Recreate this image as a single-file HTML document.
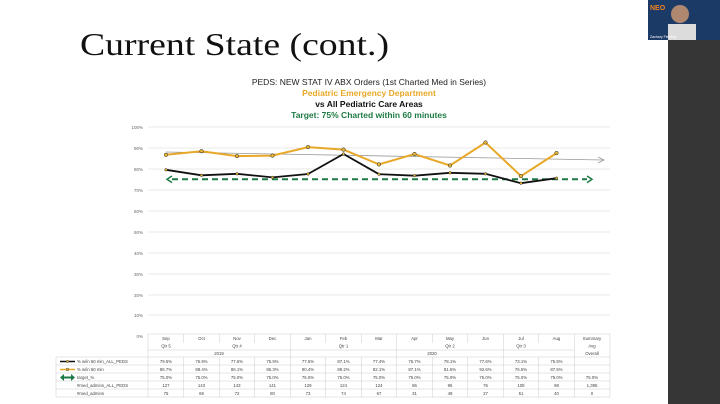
<!DOCTYPE html>
<html><head><meta charset="utf-8"><style>
html,body{margin:0;padding:0;width:720px;height:404px;overflow:hidden;background:#fff}
svg{display:block}
</style></head><body>
<svg width="720" height="404" viewBox="0 0 720 404" xmlns="http://www.w3.org/2000/svg" font-family="Liberation Sans, sans-serif">
<rect x="0" y="0" width="720" height="404" fill="#fff"/>
<rect x="668" y="40" width="52" height="364" fill="#363636"/>
<rect x="648" y="0" width="72" height="40" fill="#1c3a66"/>
<circle cx="680" cy="14" r="9" fill="#b08870"/>
<rect x="668" y="24" width="28" height="16" fill="#dcdcdc"/>
<text x="650" y="10" font-size="7" font-weight="bold" fill="#f08020">NEO</text>
<text x="650" y="38" font-size="3.5" fill="#fff">Zachary Fleming</text>
<text x="80" y="55" font-family="Liberation Serif, serif" font-size="32" fill="#111" textLength="309" lengthAdjust="spacingAndGlyphs">Current State (cont.)</text>
<g font-size="8.5" text-anchor="middle" font-weight="normal">
<text x="369" y="85" fill="#222">PEDS: NEW STAT IV ABX Orders (1st Charted Med in Series)</text>
<text x="369" y="96" fill="#e8a828" font-weight="bold">Pediatric Emergency Department</text>
<text x="369" y="107" fill="#111" font-weight="bold">vs All Pediatric Care Areas</text>
<text x="369" y="118" fill="#1e7a44" font-weight="bold">Target: 75% Charted within 60 minutes</text>
</g>
<g stroke="#e0e0e0" stroke-width="0.7">
<line x1="148" y1="127" x2="610" y2="127"/><line x1="148" y1="148" x2="610" y2="148"/><line x1="148" y1="169" x2="610" y2="169"/><line x1="148" y1="190" x2="610" y2="190"/><line x1="148" y1="211" x2="610" y2="211"/><line x1="148" y1="232" x2="610" y2="232"/><line x1="148" y1="253" x2="610" y2="253"/><line x1="148" y1="274" x2="610" y2="274"/><line x1="148" y1="295" x2="610" y2="295"/><line x1="148" y1="315" x2="610" y2="315"/>
</g>
<g font-size="4.5" fill="#666" text-anchor="end">
<text x="143" y="129">100%</text><text x="143" y="150">90%</text><text x="143" y="171">80%</text><text x="143" y="192">70%</text><text x="143" y="213">60%</text><text x="143" y="234">50%</text><text x="143" y="255">40%</text><text x="143" y="276">30%</text><text x="143" y="297">20%</text><text x="143" y="317">10%</text><text x="143" y="338">0%</text>
</g>
<line x1="166" y1="152" x2="603" y2="160" stroke="#999" stroke-width="0.8"/>
<polyline points="598,157 604,160 598,163" fill="none" stroke="#999" stroke-width="0.8"/>
<line x1="172" y1="179.3" x2="587" y2="179.3" stroke="#1e7a44" stroke-width="2" stroke-dasharray="6,4"/>
<polyline points="172,176 167,179.3 172,182.6" fill="none" stroke="#1e7a44" stroke-width="1.5"/>
<polyline points="587,176 592,179.3 587,182.6" fill="none" stroke="#1e7a44" stroke-width="1.5"/>
<polyline fill="none" stroke="#e8a828" stroke-width="2" points="166,154.8 201.5,151.2 237,156.1 272.5,155.6 308,147.1 343.5,149.6 379,164.4 414.5,154 450,165.5 485.5,142.5 521,176.1 556.5,153.1"/>
<polyline fill="none" stroke="#111" stroke-width="1.8" points="166,169.8 201.5,175.3 237,173.8 272.5,177.4 308,174 343.5,154 379,174.2 414.5,175.7 450,172.8 485.5,173.8 521,183.2 556.5,178.2"/>
<g fill="#e8b838" stroke="#222" stroke-width="0.5">
<circle cx="166" cy="154.8" r="1.8"/><circle cx="201.5" cy="151.2" r="1.8"/><circle cx="237" cy="156.1" r="1.8"/><circle cx="272.5" cy="155.6" r="1.8"/><circle cx="308" cy="147.1" r="1.8"/><circle cx="343.5" cy="149.6" r="1.8"/><circle cx="379" cy="164.4" r="1.8"/><circle cx="414.5" cy="154" r="1.8"/><circle cx="450" cy="165.5" r="1.8"/><circle cx="485.5" cy="142.5" r="1.8"/><circle cx="521" cy="176.1" r="1.8"/><circle cx="556.5" cy="153.1" r="1.8"/>
<circle cx="166" cy="169.8" r="1.3"/><circle cx="201.5" cy="175.3" r="1.3"/><circle cx="237" cy="173.8" r="1.3"/><circle cx="272.5" cy="177.4" r="1.3"/><circle cx="308" cy="174" r="1.3"/><circle cx="343.5" cy="154" r="1.3"/><circle cx="379" cy="174.2" r="1.3"/><circle cx="414.5" cy="175.7" r="1.3"/><circle cx="450" cy="172.8" r="1.3"/><circle cx="485.5" cy="173.8" r="1.3"/><circle cx="521" cy="183.2" r="1.3"/><circle cx="556.5" cy="178.2" r="1.3"/>
</g>
<!-- table -->
<g stroke="#ccc" stroke-width="0.5" fill="none">
<rect x="148" y="334" width="462" height="63"/>
<line x1="56" y1="357" x2="610" y2="357"/><line x1="56" y1="365" x2="610" y2="365"/><line x1="56" y1="373" x2="610" y2="373"/><line x1="56" y1="381" x2="610" y2="381"/><line x1="56" y1="389" x2="610" y2="389"/><line x1="56" y1="397" x2="148" y2="397"/>
<line x1="56" y1="357" x2="56" y2="397"/>
<line x1="183.75" y1="334" x2="183.75" y2="343"/><line x1="219.25" y1="334" x2="219.25" y2="343"/><line x1="254.75" y1="334" x2="254.75" y2="343"/><line x1="325.75" y1="334" x2="325.75" y2="343"/><line x1="361.25" y1="334" x2="361.25" y2="343"/><line x1="432.25" y1="334" x2="432.25" y2="343"/><line x1="467.75" y1="334" x2="467.75" y2="343"/><line x1="538.75" y1="334" x2="538.75" y2="343"/>
<line x1="183.75" y1="357" x2="183.75" y2="397"/><line x1="219.25" y1="357" x2="219.25" y2="397"/><line x1="254.75" y1="357" x2="254.75" y2="397"/><line x1="325.75" y1="357" x2="325.75" y2="397"/><line x1="361.25" y1="357" x2="361.25" y2="397"/><line x1="432.25" y1="357" x2="432.25" y2="397"/><line x1="467.75" y1="357" x2="467.75" y2="397"/><line x1="538.75" y1="357" x2="538.75" y2="397"/>
<line x1="290.25" y1="334" x2="290.25" y2="397"/><line x1="396.75" y1="334" x2="396.75" y2="397"/><line x1="503.25" y1="334" x2="503.25" y2="397"/><line x1="574.25" y1="334" x2="574.25" y2="397"/>
<line x1="148" y1="350" x2="574.25" y2="350"/>
</g>
<g font-size="4.3" fill="#444" text-anchor="middle">
<text x="166" y="340">Sep</text><text x="201.5" y="340">Oct</text><text x="237" y="340">Nov</text><text x="272.5" y="340">Dec</text><text x="308" y="340">Jan</text><text x="343.5" y="340">Feb</text><text x="379" y="340">Mar</text><text x="414.5" y="340">Apr</text><text x="450" y="340">May</text><text x="485.5" y="340">Jun</text><text x="521" y="340">Jul</text><text x="556.5" y="340">Aug</text><text x="592" y="340">Summary</text>
<text x="166" y="347.5">Qtr 5</text><text x="237" y="347.5">Qtr 4</text><text x="343.5" y="347.5">Qtr 1</text><text x="450" y="347.5">Qtr 2</text><text x="521" y="347.5">Qtr 3</text><text x="592" y="347.5">Avg</text>
<text x="219" y="355">2019</text><text x="432" y="355">2020</text><text x="592" y="355">Overall</text>
<text x="166" y="363">79.5%</text><text x="201.5" y="363">76.9%</text><text x="237" y="363">77.6%</text><text x="272.5" y="363">75.9%</text><text x="308" y="363">77.5%</text><text x="343.5" y="363">87.1%</text><text x="379" y="363">77.4%</text><text x="414.5" y="363">76.7%</text><text x="450" y="363">78.1%</text><text x="485.5" y="363">77.6%</text><text x="521" y="363">73.1%</text><text x="556.5" y="363">75.5%</text>
<text x="166" y="371">86.7%</text><text x="201.5" y="371">88.4%</text><text x="237" y="371">86.1%</text><text x="272.5" y="371">86.3%</text><text x="308" y="371">90.4%</text><text x="343.5" y="371">89.2%</text><text x="379" y="371">82.1%</text><text x="414.5" y="371">87.1%</text><text x="450" y="371">81.6%</text><text x="485.5" y="371">92.6%</text><text x="521" y="371">76.5%</text><text x="556.5" y="371">87.5%</text>
<text x="166" y="379">75.0%</text><text x="201.5" y="379">75.0%</text><text x="237" y="379">75.0%</text><text x="272.5" y="379">75.0%</text><text x="308" y="379">75.0%</text><text x="343.5" y="379">75.0%</text><text x="379" y="379">75.0%</text><text x="414.5" y="379">75.0%</text><text x="450" y="379">75.0%</text><text x="485.5" y="379">75.0%</text><text x="521" y="379">75.0%</text><text x="556.5" y="379">75.0%</text><text x="592" y="379">75.0%</text>
<text x="166" y="387">127</text><text x="201.5" y="387">143</text><text x="237" y="387">143</text><text x="272.5" y="387">141</text><text x="308" y="387">129</text><text x="343.5" y="387">124</text><text x="379" y="387">124</text><text x="414.5" y="387">86</text><text x="450" y="387">96</text><text x="485.5" y="387">76</text><text x="521" y="387">108</text><text x="556.5" y="387">98</text><text x="592" y="387">1,395</text>
<text x="166" y="395">75</text><text x="201.5" y="395">69</text><text x="237" y="395">72</text><text x="272.5" y="395">80</text><text x="308" y="395">73</text><text x="343.5" y="395">74</text><text x="379" y="395">67</text><text x="414.5" y="395">31</text><text x="450" y="395">49</text><text x="485.5" y="395">27</text><text x="521" y="395">51</text><text x="556.5" y="395">40</text><text x="592" y="395">0</text>
</g>
<g font-size="4.3" fill="#444">
<text x="77" y="363">% w/in 60 min_ALL_PEDS</text>
<text x="77" y="371">% w/in 60 min</text>
<text x="77" y="379">target_%</text>
<text x="77" y="387">#med_admins_ALL_PEDS</text>
<text x="77" y="395">#med_admins</text>
</g>
<line x1="60" y1="361.5" x2="75" y2="361.5" stroke="#111" stroke-width="1.5"/><circle cx="67.5" cy="361.5" r="1.2" fill="#e8b838" stroke="#222" stroke-width="0.4"/>
<line x1="60" y1="369.5" x2="75" y2="369.5" stroke="#e8a828" stroke-width="1.5"/><circle cx="67.5" cy="369.5" r="1.4" fill="#e8b838" stroke="#222" stroke-width="0.4"/>
<polygon points="60,377.5 64,374 64,381" fill="#1e7a44"/><polygon points="75,377.5 71,374 71,381" fill="#1e7a44"/><rect x="64" y="376.5" width="7" height="2" fill="#1e7a44"/>
</svg>
</body></html>
